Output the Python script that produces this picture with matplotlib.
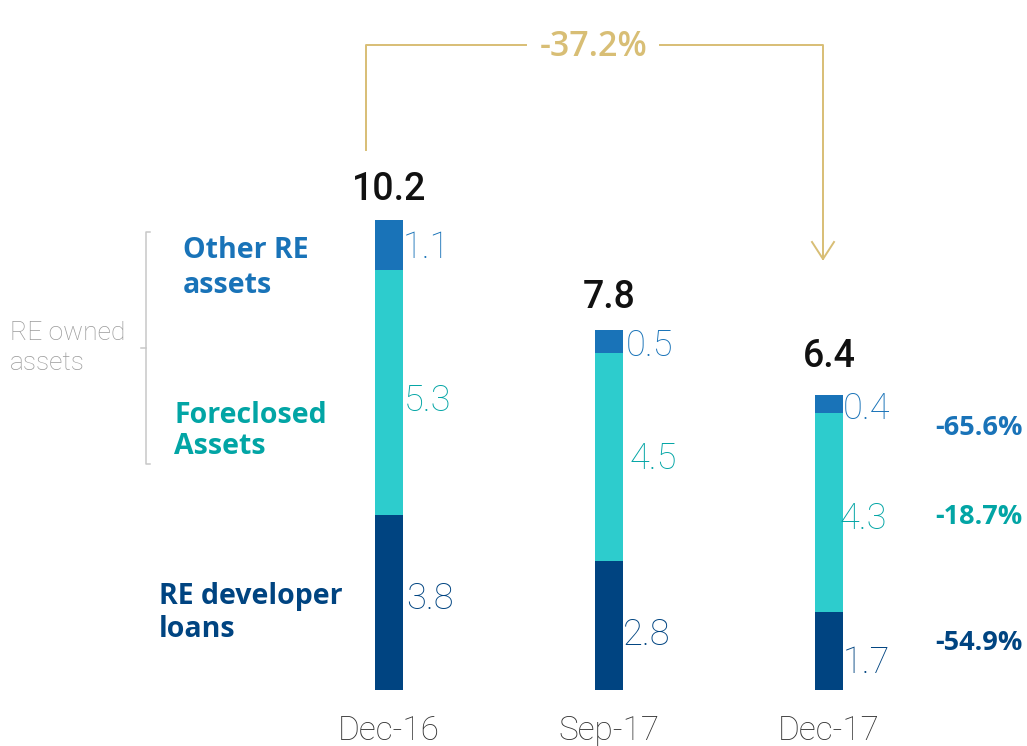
import matplotlib
matplotlib.use("Agg")
import matplotlib.pyplot as plt
from matplotlib.lines import Line2D

# ---- data -------------------------------------------------------------
periods = ["Dec-16", "Sep-17", "Dec-17"]
developer_loans = [3.8, 2.8, 1.7]
foreclosed_assets = [5.3, 4.5, 4.3]
other_re_assets = [1.1, 0.5, 0.4]
totals = [10.2, 7.8, 6.4]
yoy_change = ["-65.6%", "-18.7%", "-54.9%"]   # other RE, foreclosed, developer loans
total_change = "-37.2%"

# ---- style ------------------------------------------------------------
NAVY = "#004481"
TEAL = "#2DCCCD"
TEAL_TXT = "#02A5A5"
BLUE = "#1973B8"
GOLD = "#D8BE75"
GREY = "#9A9A9A"
LIGHT = "Roboto"
HEAVY = "Open Sans"

W, H = 1027, 746
fig = plt.figure(figsize=(W / 100, H / 100), dpi=100)
ax = fig.add_axes([0, 0, 1, 1])

# axis scaling: one category step = 220 px, one unit of value = 46.1 px
XSTEP, YUNIT, X0PX, BASEPX = 220.0, 46.1, 389.0, 690.0
ax.set_xlim(-X0PX / XSTEP, (W - X0PX) / XSTEP)
ax.set_ylim(-(H - BASEPX) / YUNIT, BASEPX / YUNIT)
ax.axis("off")


def px(xp, yp):
    """pixel position (from top-left) -> data coordinates"""
    return (xp - X0PX) / XSTEP, (BASEPX - yp) / YUNIT


xs = list(range(len(periods)))
bw = 28 / XSTEP

ax.bar(xs, developer_loans, bw, color=NAVY)
ax.bar(xs, foreclosed_assets, bw, bottom=developer_loans, color=TEAL)
bottom3 = [a + b for a, b in zip(developer_loans, foreclosed_assets)]
ax.bar(xs, other_re_assets, bw, bottom=bottom3, color=BLUE)

# segment values to the right of each bar (pixel nudges per bar)
nudges = {
    "loans": [(3, 3), (0, -10), (0, -12)],
    "fore": [(1, -8), (7, -2), (-3, -6)],
    "other": [(0, -3), (3, -4), (0, -5)],
}
for key, vals, bots, col in [
    ("loans", developer_loans, [0] * 3, NAVY),
    ("fore", foreclosed_assets, developer_loans, TEAL_TXT),
    ("other", other_re_assets, bottom3, BLUE),
]:
    for x, v, b, nd in zip(xs, vals, bots, nudges[key]):
        ax.annotate(f"{v:.1f}", (x + bw / 2, b + v / 2), xytext=nd,
                    textcoords="offset pixels", ha="left", va="center",
                    fontsize=26, color=col, family=LIGHT, fontweight="light")

# totals above bars
for x, t, gap in zip(xs, totals, [20, 22, 28]):
    ax.annotate(f"{t:.1f}", (x, t), xytext=(0, gap), textcoords="offset pixels",
                ha="center", va="baseline", fontsize=27, color="#111111",
                family=LIGHT, fontweight="medium")

# category labels
for x, p in zip(xs, periods):
    ax.text(x, px(0, 731)[1], p, ha="center", va="center", fontsize=24,
            color="#333333", family=LIGHT, fontweight="light")

# series labels on the left
ax.text(*px(183, 268), "Other RE\nassets", ha="left", va="center", fontsize=20.5,
        color=BLUE, family=HEAVY, fontweight="bold", linespacing=1.25)
ax.text(*px(174, 431), "Foreclosed\nAssets", ha="left", va="center", fontsize=20.5,
        color=TEAL_TXT, family=HEAVY, fontweight="bold", linespacing=1.1)
ax.text(*px(159, 613), "RE developer\nloans", ha="left", va="center", fontsize=20.5,
        color=NAVY, family=HEAVY, fontweight="bold", linespacing=1.2)
ax.text(*px(10, 348), "RE owned\nassets", ha="left", va="center", fontsize=19,
        color=GREY, family=LIGHT, fontweight="light", linespacing=1.3)

# bracket grouping the owned-asset series
bx, bt, bb, bm = 146, 232, 464, 348
for xsq, ysq in [([150, bx, bx, 150], [bt, bt, bb, bb]), ([141, bx], [bm, bm])]:
    pts = [px(a, b) for a, b in zip(xsq, ysq)]
    ax.add_line(Line2D([p[0] for p in pts], [p[1] for p in pts], color="#C8C8C8", lw=1.1))

# year-on-year changes
for ypx, txt, col in zip([428, 517, 643], yoy_change, [BLUE, TEAL_TXT, NAVY]):
    ax.text(*px(935, ypx), txt, ha="left", va="center", fontsize=19.5,
            color=col, family=HEAVY, fontweight="bold")

# connector from Dec-16 to Dec-17 with total change
left = [px(366, 150), px(366, 45), px(526, 45)]
right = [px(660, 45), px(823, 45), px(823, 259)]
for seg in (left, right):
    ax.add_line(Line2D([p[0] for p in seg], [p[1] for p in seg], color=GOLD, lw=1.4))
head = [px(812, 242), px(823, 259), px(834, 242)]
ax.add_line(Line2D([p[0] for p in head], [p[1] for p in head], color=GOLD, lw=1.4))
ax.text(*px(594, 47), total_change, ha="center", va="center", fontsize=24.5,
        color=GOLD, family=HEAVY, fontweight="semibold")

fig.savefig("out.png", dpi=100)
